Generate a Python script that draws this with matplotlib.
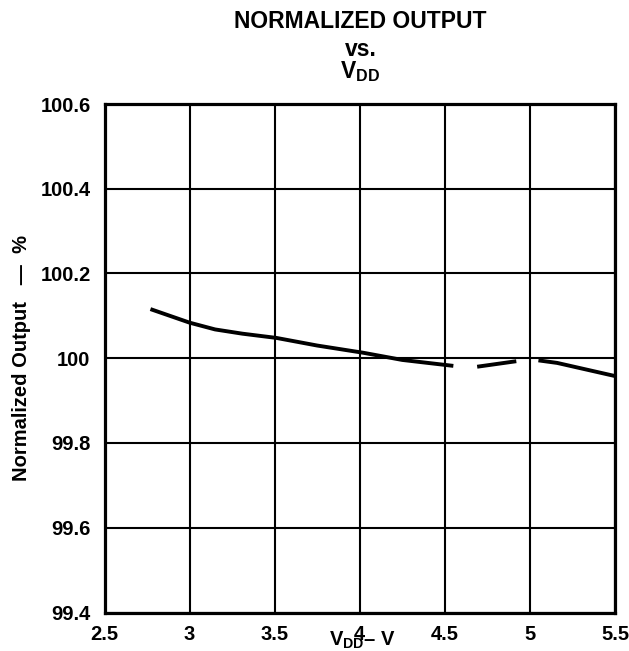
import numpy as np
import matplotlib
matplotlib.use("Agg")
import matplotlib.pyplot as plt

plt.rcParams['font.family'] = ['Liberation Sans', 'DejaVu Sans']
plt.rcParams['mathtext.fontset'] = 'custom'
plt.rcParams['mathtext.rm'] = 'Liberation Sans'
plt.rcParams['mathtext.bf'] = 'Liberation Sans:bold'
plt.rcParams['mathtext.it'] = 'Liberation Sans:italic'

# curve (nan = gap in the drawn line)
vdd = [2.77, 3.0, 3.15, 3.31, 3.51, 3.75, 4.02, 4.25, 4.55, np.nan,
       4.69, 4.92, np.nan, 5.05, 5.16, 5.5]
norm_out = [100.116, 100.084, 100.068, 100.058, 100.048, 100.030, 100.013,
            99.996, 99.982, np.nan, 99.980, 99.993, np.nan, 99.995, 99.989,
            99.958]

xticks = [2.5, 3, 3.5, 4, 4.5, 5, 5.5]
xtick_labels = ['2.5', '3', '3.5', '4', '4.5', '5', '5.5']
yticks = [99.4, 99.6, 99.8, 100, 100.2, 100.4, 100.6]
ytick_labels = ['99.4', '99.6', '99.8', '100', '100.2', '100.4', '100.6']

fig = plt.figure(figsize=(6.29, 6.51), dpi=100)
ax = fig.add_axes([104.5 / 629, 1 - 612.5 / 651, 510.5 / 629, 508.5 / 651])

ax.plot(vdd, norm_out, color='black', lw=2.8, solid_capstyle='butt')

ax.set_xlim(2.5, 5.5)
ax.set_ylim(99.4, 100.6)
ax.set_xticks(xticks)
ax.set_xticklabels(xtick_labels)
ax.set_yticks(yticks)
ax.set_yticklabels(ytick_labels)
ax.tick_params(length=0, labelsize=14.5, pad=10)
for lab in ax.get_xticklabels() + ax.get_yticklabels():
    lab.set_fontweight('bold')
ax.tick_params(axis='x', pad=9)

ax.grid(True, color='black', lw=1.5)
ax.set_axisbelow(True)
for s in ax.spines.values():
    s.set_linewidth(2.3)

# titles
fig.text(0.573, 1 - 22 / 651, 'NORMALIZED OUTPUT', ha='center', va='center',
         fontsize=16.5, fontweight='bold')
fig.text(0.573, 1 - 49 / 651, 'vs.', ha='center', va='center',
         fontsize=16.5, fontweight='bold')
fig.text(0.573, 1 - 72 / 651, r'$\mathbf{V_{DD}}$', ha='center', va='center',
         fontsize=16.5, fontweight='bold')

fig.text(22 / 629, 1 - 358 / 651, 'Normalized Output   \u2014  %', rotation=90,
         ha='center', va='center', fontsize=14.5, fontweight='bold')
fig.text(362 / 629, 1 - 640 / 651, r'$\mathbf{V_{DD}}$' + '\u2013 V',
         ha='center', va='center', fontsize=14.5, fontweight='bold')

fig.savefig('out.png', dpi=100)
